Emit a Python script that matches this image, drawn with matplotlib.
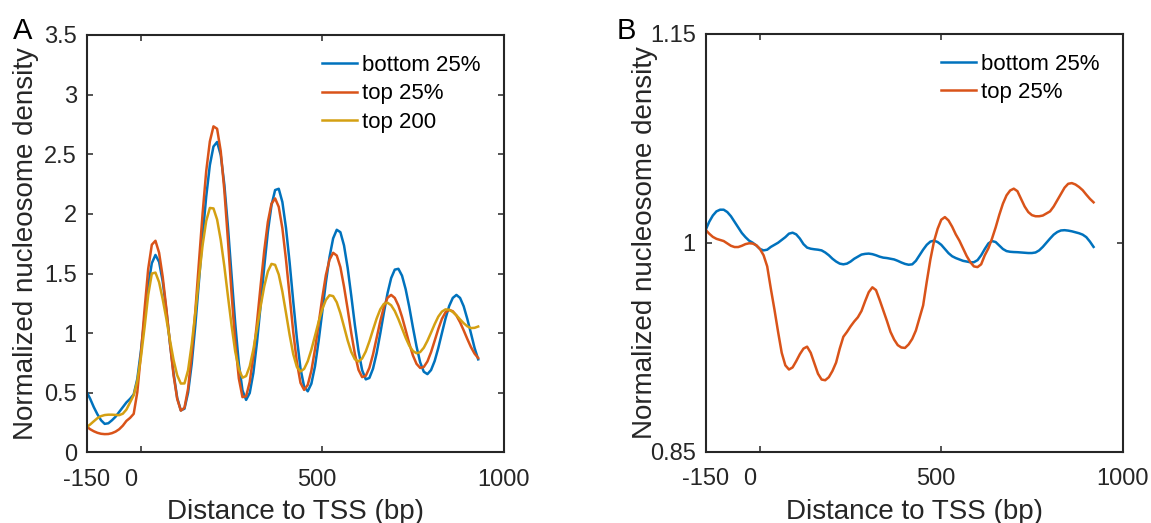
import matplotlib

matplotlib.use("Agg")
import matplotlib.pyplot as plt
import numpy as np
from matplotlib.transforms import ScaledTranslation

# distance to TSS (bp), sampled every 10 bp
distance_a = np.arange(-150, 931, 10)
distance_b = np.arange(-150, 921, 10)

# panel A: normalized nucleosome density
bottom25_a = [
    0.511, 0.45, 0.38, 0.32, 0.27, 0.24, 0.245, 0.27, 0.30, 0.34,
    0.38, 0.42, 0.45, 0.487, 0.618, 0.853, 1.134, 1.399, 1.587, 1.656,
    1.598, 1.434, 1.193, 0.916, 0.663, 0.457, 0.353, 0.367, 0.502, 0.744,
    1.068, 1.436, 1.812, 2.145, 2.409, 2.565, 2.603, 2.493, 2.245, 1.889,
    1.482, 1.082, 0.744, 0.521, 0.441, 0.499, 0.667, 0.923, 1.233, 1.557,
    1.851, 2.073, 2.200, 2.211, 2.100, 1.882, 1.593, 1.267, 0.959, 0.704,
    0.552, 0.513, 0.577, 0.723, 0.935, 1.179, 1.426, 1.638, 1.795, 1.867,
    1.847, 1.736, 1.549, 1.314, 1.068, 0.851, 0.690, 0.613, 0.625, 0.703,
    0.833, 0.998, 1.173, 1.335, 1.462, 1.533, 1.540, 1.482, 1.369, 1.219,
    1.049, 0.889, 0.756, 0.677, 0.657, 0.691, 0.767, 0.876, 1.001, 1.124,
    1.228, 1.296, 1.321, 1.296, 1.226, 1.120, 1.000, 0.877, 0.781,
]
top25_a = [
    0.218, 0.195, 0.178, 0.165, 0.157, 0.154, 0.155, 0.162, 0.175, 0.195,
    0.225, 0.265, 0.29, 0.324, 0.507, 0.829, 1.200, 1.539, 1.742, 1.775,
    1.675, 1.473, 1.207, 0.915, 0.647, 0.449, 0.351, 0.375, 0.536, 0.822,
    1.187, 1.598, 2.004, 2.359, 2.607, 2.734, 2.714, 2.527, 2.197, 1.777,
    1.329, 0.923, 0.620, 0.464, 0.471, 0.592, 0.811, 1.090, 1.398, 1.691,
    1.933, 2.086, 2.130, 2.059, 1.880, 1.617, 1.313, 1.010, 0.756, 0.584,
    0.525, 0.567, 0.686, 0.865, 1.079, 1.296, 1.487, 1.616, 1.674, 1.651,
    1.554, 1.391, 1.203, 1.002, 0.825, 0.693, 0.632, 0.642, 0.710, 0.822,
    0.961, 1.101, 1.220, 1.297, 1.321, 1.296, 1.231, 1.137, 1.026, 0.913,
    0.814, 0.743, 0.709, 0.717, 0.763, 0.841, 0.937, 1.035, 1.120, 1.176,
    1.196, 1.184, 1.148, 1.092, 1.024, 0.952, 0.884, 0.829, 0.792,
]
top200_a = [
    0.212, 0.235, 0.262, 0.288, 0.305, 0.314, 0.317, 0.317, 0.315, 0.313,
    0.325, 0.36, 0.42, 0.48, 0.60, 0.80, 1.05, 1.32, 1.50, 1.508,
    1.428, 1.285, 1.122, 0.941, 0.775, 0.647, 0.578, 0.579, 0.690, 0.908,
    1.172, 1.465, 1.737, 1.941, 2.050, 2.046, 1.953, 1.782, 1.561, 1.308,
    1.063, 0.846, 0.699, 0.627, 0.641, 0.723, 0.864, 1.039, 1.225, 1.393,
    1.518, 1.581, 1.573, 1.492, 1.349, 1.170, 0.986, 0.824, 0.717, 0.679,
    0.701, 0.765, 0.862, 0.978, 1.096, 1.201, 1.279, 1.318, 1.311, 1.259,
    1.168, 1.055, 0.940, 0.843, 0.781, 0.763, 0.788, 0.847, 0.932, 1.029,
    1.123, 1.200, 1.246, 1.256, 1.234, 1.186, 1.118, 1.040, 0.962, 0.895,
    0.851, 0.832, 0.842, 0.878, 0.936, 1.005, 1.076, 1.139, 1.181, 1.200,
    1.196, 1.178, 1.150, 1.116, 1.084, 1.058, 1.043, 1.045, 1.056,
]

# panel B: normalized nucleosome density
bottom25_b = [
    1.009, 1.015, 1.0195, 1.0225, 1.0237, 1.0237, 1.022, 1.019, 1.015, 1.011,
    1.007, 1.004, 1.0015, 1.0, 0.998, 0.9955, 0.9945, 0.995, 0.997, 0.9985,
    1.0, 1.002, 1.004, 1.0065, 1.0072, 1.006, 1.003, 0.999, 0.9965, 0.9957,
    0.9953, 0.995, 0.9945, 0.993, 0.991, 0.9885, 0.9865, 0.985, 0.9845, 0.985,
    0.9865, 0.9885, 0.990, 0.9915, 0.992, 0.9922, 0.9918, 0.991, 0.990, 0.9893,
    0.989, 0.9885, 0.988, 0.987, 0.9858, 0.9848, 0.9842, 0.9845, 0.987, 0.991,
    0.995, 0.9985, 1.0008, 1.0015, 1.0005, 0.9985, 0.9955, 0.9925, 0.9903, 0.989,
    0.988, 0.987, 0.9865, 0.986, 0.986, 0.9875, 0.991, 0.9955, 0.9995, 1.0012,
    1.0005, 0.998, 0.9955, 0.994, 0.9935, 0.9933, 0.9932, 0.993, 0.9928, 0.9926,
    0.9926, 0.993, 0.9945, 0.997, 1.0, 1.003, 1.0058, 1.0077, 1.0088, 1.009,
    1.0087, 1.0082, 1.0075, 1.0068, 1.0058, 1.004, 1.0008, 0.997,
]
top25_b = [
    1.0093, 1.0065, 1.0042, 1.0028, 1.002, 1.0012, 0.9995, 0.9978, 0.9969, 0.9969,
    0.9978, 0.999, 0.9996, 0.9994, 0.9982, 0.9955, 0.991, 0.983, 0.967, 0.952,
    0.936, 0.921, 0.912, 0.909, 0.9105, 0.915, 0.920, 0.924, 0.9254, 0.921,
    0.9135, 0.906, 0.9018, 0.9013, 0.9035, 0.908, 0.914, 0.924, 0.9325, 0.936,
    0.940, 0.9435, 0.9465, 0.951, 0.958, 0.9645, 0.968, 0.966, 0.959, 0.9515,
    0.944, 0.936, 0.9305, 0.9265, 0.9248, 0.9245, 0.927, 0.931, 0.937, 0.946,
    0.955, 0.972, 0.988, 1.001, 1.010, 1.0165, 1.0184, 1.016, 1.0115, 1.006,
    1.0015, 0.996, 0.9905, 0.9861, 0.983, 0.9825, 0.9845, 0.991, 0.996, 1.003,
    1.011, 1.020, 1.028, 1.034, 1.0375, 1.0388, 1.037, 1.0315, 1.026, 1.022,
    1.0198, 1.019, 1.019, 1.0195, 1.021, 1.0225, 1.026, 1.0305, 1.035, 1.0395,
    1.0423, 1.0428, 1.0418, 1.040, 1.0377, 1.0345, 1.0315, 1.029,
]

x_ticks = [-150, 0, 500, 1000]
x_tick_labels = ["-150", "0", "500", "1000"]
y_ticks_a = [0, 0.5, 1, 1.5, 2, 2.5, 3, 3.5]
y_tick_labels_a = ["0", "0.5", "1", "1.5", "2", "2.5", "3", "3.5"]
y_ticks_b = [0.85, 1, 1.15]
y_tick_labels_b = ["0.85", "1", "1.15"]

BLUE = "#0072BD"
RED = "#D95319"
GOLD = "#D4A012"
INK = "#262626"

plt.rcParams["font.family"] = ["Liberation Sans", "DejaVu Sans"]


def style_axis(fig, ax, yticks, ylabels, ylim):
    ax.set_xlim(-150, 1000)
    ax.set_ylim(*ylim)
    ax.set_xticks(x_ticks)
    ax.set_xticklabels(x_tick_labels)
    ax.set_yticks(yticks)
    ax.set_yticklabels(ylabels)
    ax.tick_params(direction="in", length=4, width=1.1, colors=INK,
                   labelsize=17, top=True, right=True, pad=7)
    ax.tick_params(axis="x", pad=12)
    # the "0" and "500" labels sit a little left of their tick marks
    for label, shift in zip(ax.get_xticklabels(), [0, -10, -5, 0]):
        label.set_transform(label.get_transform()
                            + ScaledTranslation(shift / 100, 0, fig.dpi_scale_trans))
    for spine in ax.spines.values():
        spine.set_linewidth(1.5)
        spine.set_color(INK)
    ax.set_xlabel("Distance to TSS (bp)", fontsize=20, color=INK)
    ax.set_ylabel("Normalized nucleosome density", fontsize=20, color=INK)
    ax.xaxis.set_label_coords(0.5, -0.112)
    ax.yaxis.set_label_coords(-0.113, 0.5)


fig = plt.figure(figsize=(11.51, 5.23), dpi=100)
ax_a = fig.add_axes([0.0752, 0.1348, 0.3623, 0.7983])
ax_b = fig.add_axes([0.6130, 0.1363, 0.3623, 0.7992])

ax_a.plot(distance_a, bottom25_a, color=BLUE, lw=1.8, label="bottom 25%")
ax_a.plot(distance_a, top25_a, color=RED, lw=1.8, label="top 25%")
ax_a.plot(distance_a, top200_a, color=GOLD, lw=1.8, label="top 200")
style_axis(fig, ax_a, y_ticks_a, y_tick_labels_a, (0, 3.5))

ax_b.plot(distance_b, bottom25_b, color=BLUE, lw=1.8, label="bottom 25%")
ax_b.plot(distance_b, top25_b, color=RED, lw=1.8, label="top 25%")
style_axis(fig, ax_b, y_ticks_b, y_tick_labels_b, (0.85, 1.15))

for ax in (ax_a, ax_b):
    ax.legend(loc="upper right", bbox_to_anchor=(0.944, 0.952), frameon=False,
              fontsize=16, handlelength=1.6, handletextpad=0.2,
              labelspacing=0.33, borderpad=0, borderaxespad=0)

fig.text(0.0115, 0.925, "A", fontsize=21, color="black")
fig.text(0.5355, 0.925, "B", fontsize=21, color="black")

fig.savefig("out.png", dpi=100)
